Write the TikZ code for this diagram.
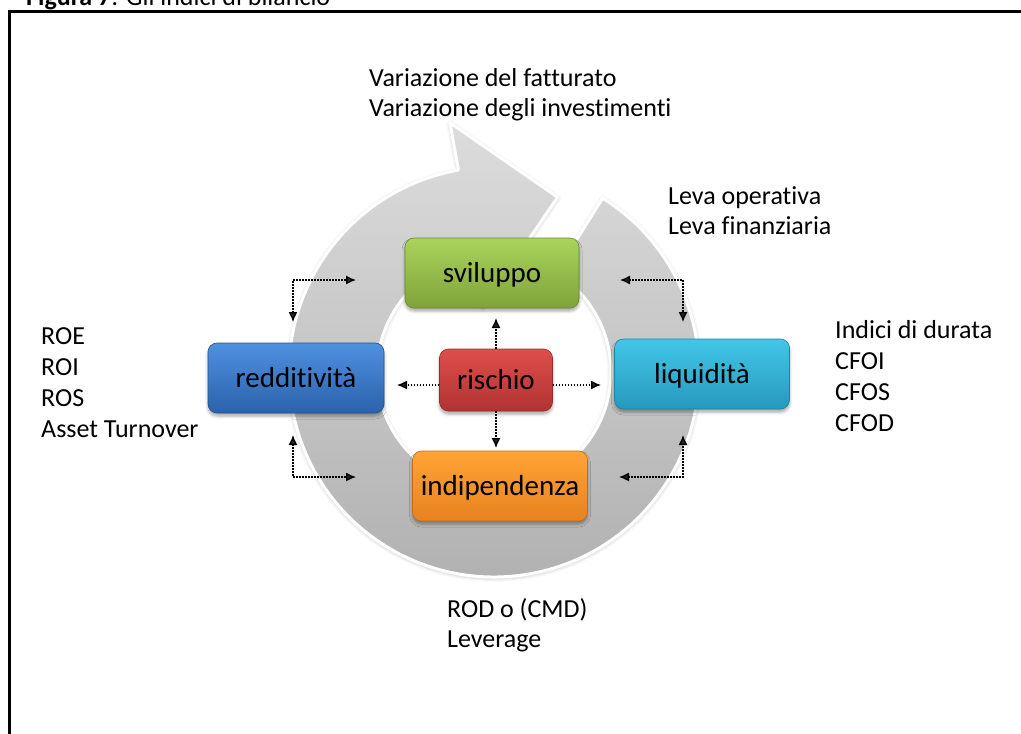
\documentclass[tikz,border=0pt]{standalone}
\usepackage{fontspec}
\setmainfont[Ligatures={NoCommon,NoContextual}]{Carlito}
\usetikzlibrary{arrows.meta,calc,shadows.blur}

\definecolor{ringtop}{HTML}{DCDCDC}
\definecolor{ringbot}{HTML}{AFAFAF}
\definecolor{gtop}{HTML}{AAD45C}
\definecolor{gbot}{HTML}{7FA23A}
\definecolor{btop}{HTML}{4F90E0}
\definecolor{bbot}{HTML}{2B62AB}
\definecolor{rtop}{HTML}{DE4E4B}
\definecolor{rbot}{HTML}{B03432}
\definecolor{ctop}{HTML}{43C6E8}
\definecolor{cbot}{HTML}{2699BC}
\definecolor{otop}{HTML}{FFA436}
\definecolor{obot}{HTML}{E7821F}

\tikzset{
  stage/.style={rounded corners=9pt, minimum width=175pt, minimum height=70pt,
    inner sep=0pt, text height=24pt, text depth=6pt, font=\fontsize{29}{34}\selectfont,
    blur shadow={shadow xshift=0pt, shadow yshift=-3pt, shadow opacity=35, shadow blur radius=3pt}},
  stagecol/.style n args={2}{top color=#1, bottom color=#2, draw=#2!85!black, line width=0.6pt},
  lbl/.style={anchor=base west, inner sep=0pt, font=\fontsize{26}{31}\selectfont},
  conn/.style={line width=1.3pt, dash pattern=on 1.3pt off 1.7pt, -{Latex[length=10pt,width=9pt]}},
  conn2/.style={line width=1.3pt, dash pattern=on 1.3pt off 1.7pt, {Latex[length=10pt,width=9pt]}-{Latex[length=10pt,width=9pt]}},
}

\begin{document}
\begin{tikzpicture}[x=1pt,y=-1pt]
\useasboundingbox (0,0) rectangle (1021,734);
\clip (0,0) rectangle (1021,734);

% caption and frame
\node[lbl] (cap) at (26,5) {\textbf{Figura 7}: Gli indici di bilancio};
\draw[line width=2.6pt] (9.5,740) -- (9.5,11.5) -- (1030,11.5);

% circular arrow
\coordinate (O) at (494,372);
\shade[top color=ringtop, bottom color=ringbot, draw=white, line width=3pt, line join=round,
  blur shadow={shadow xshift=0pt, shadow yshift=-1pt, shadow opacity=30, shadow blur radius=4pt}]
  ($(O)+(-100:253)$) -- ($(O)+(-70:186)$) -- ($(O)+(-100:66)$) -- ($(O)+(-100:117)$)
  arc[start angle=-100, end angle=-418, radius=117]
  -- ($(O)+(-418:205)$)
  arc[start angle=-418, end angle=-100, radius=205] -- cycle;

% stages
\node[stage, stagecol={gtop}{gbot}, minimum width=174pt] (svil) at (492,273) {sviluppo};
\node[stage, stagecol={btop}{bbot}, minimum width=176pt] (redd) at (296,378) {redditività};
\node[stage, stagecol={rtop}{rbot}, minimum width=113pt, minimum height=62pt] (risc) at (496,380) {rischio};
\node[stage, stagecol={ctop}{cbot}] (liq) at (702,374) {liquidità};
\node[stage, stagecol={otop}{obot}] (indip) at (500,486) {indipendenza};

% arrow tips of the connectors
\coordinate (upT) at (496,318);
\coordinate (dnT) at (496,448);
\coordinate (lfT) at (397,385);
\coordinate (rtT) at (601,385);
\coordinate (tlA) at (293,322);
\coordinate (tlB) at (356,280);
\coordinate (trA) at (620,280);
\coordinate (trB) at (683,322);
\coordinate (blA) at (293,435);
\coordinate (blB) at (356,477);
\coordinate (brA) at (619,477);
\coordinate (brB) at (683,435);

% connectors from rischio
\draw[conn] (risc.north) -- (upT);
\draw[conn] (risc.south) -- (dnT);
\draw[conn] (lfT -| risc.west) -- (lfT);
\draw[conn] (rtT -| risc.east) -- (rtT);

% connectors round the ring
\draw[conn2] (tlA) |- (tlB);
\draw[conn2] (trA) -| (trB);
\draw[conn2] (blA) |- (blB);
\draw[conn2] (brA) -| (brB);

% labels
\node[lbl] (v1) at (369,86) {Variazione del fatturato};
\node[lbl] (v2) at (369,116) {Variazione degli investimenti};
\node[lbl] (l1) at (668,204) {Leva operativa};
\node[lbl] (l2) at (668,234) {Leva finanziaria};
\node[lbl] (q1) at (835,338) {Indici di durata};
\node[lbl] (q2) at (835,369) {CFOI};
\node[lbl] (q3) at (835,400) {CFOS};
\node[lbl] (q4) at (835,431) {CFOD};
\node[lbl] (r1) at (41,344) {ROE};
\node[lbl] (r2) at (41,375) {ROI};
\node[lbl] (r3) at (41,406) {ROS};
\node[lbl] (r4) at (41,437) {Asset Turnover};
\node[lbl] (d1) at (447,617) {ROD o (CMD)};
\node[lbl] (d2) at (447,647) {Leverage};
\end{tikzpicture}
\end{document}
